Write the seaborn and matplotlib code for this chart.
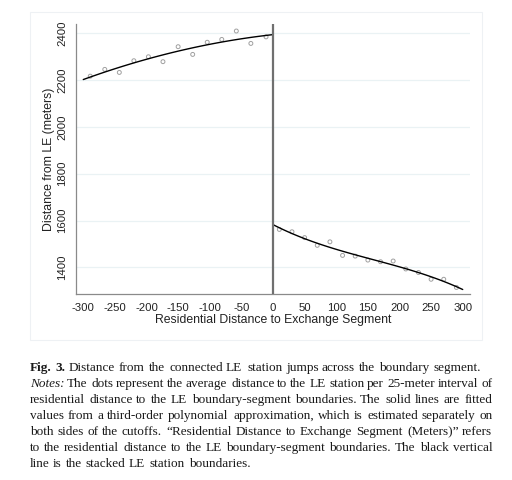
import numpy as np
import pandas as pd
import matplotlib
matplotlib.use("Agg")
import matplotlib.pyplot as plt
import seaborn as sns

# bin means (distance to segment, distance to LE station)
left_x = [-289, -266, -243, -220, -197, -174, -150, -127, -104, -81, -58, -35, -11]
left_y = [2217, 2246, 2233, 2283, 2300, 2279, 2343, 2310, 2362, 2374, 2410, 2357, 2385]
right_x = [10, 30, 50, 70, 90, 110, 130, 150, 170, 190, 210, 230, 250, 270, 290]
right_y = [1562, 1552, 1527, 1494, 1509, 1451, 1448, 1431, 1424, 1427, 1393, 1378, 1349, 1349, 1314]

x_labels = [-300, -250, -200, -150, -100, -50, 0, 50, 100, 150, 200, 250, 300]
y_labels = [1400, 1600, 1800, 2000, 2200, 2400]

caption = [
    ("left", [("Fig. 3.", "bold"), ("Distance from the connected LE station jumps across the boundary segment.", "normal")]),
    ("just", [("Notes:", "italic"), ("The dots represent the average distance to the LE station per 25-meter interval of", "normal")]),
    ("just", [("residential distance to the LE boundary-segment boundaries. The solid lines are fitted", "normal")]),
    ("just", [("values from a third-order polynomial approximation, which is estimated separately on", "normal")]),
    ("just", [("both sides of the cutoffs. \u201cResidential Distance to Exchange Segment (Meters)\u201d refers", "normal")]),
    ("just", [("to the residential distance to the LE boundary-segment boundaries. The black vertical", "normal")]),
    ("left", [("line is the stacked LE station boundaries.", "normal")]),
]

sns.set_style("white")
plt.rcParams["font.family"] = ["Liberation Sans", "DejaVu Sans"]
plt.rcParams["axes.unicode_minus"] = False

left = pd.DataFrame({"x": left_x, "y": left_y})
right = pd.DataFrame({"x": right_x, "y": right_y})

# polynomial fits, separately on each side (the bin means make the cubic wobble
# on the left, so a quadratic follows the published curve better there)
xl = np.linspace(-300, 0, 100)
xr = np.linspace(0, 300, 100)
fit_l = pd.DataFrame({"x": xl, "y": np.polyval(np.polyfit(left.x, left.y, 2), xl)})
fit_r = pd.DataFrame({"x": xr, "y": np.polyval(np.polyfit(right.x, right.y, 3), xr)})

W, H = 512, 480
fig = plt.figure(figsize=(W / 100, H / 100), dpi=100)
ax = fig.add_axes([76 / W, 1 - 294 / H, 394 / W, 270 / H])

# faint frame around the graph
fig.add_artist(plt.Rectangle((30 / W, 1 - 340 / H), 452 / W, 328 / H, transform=fig.transFigure,
                             fill=False, edgecolor="#eef1f4", lw=0.8))

ax.set_xlim(-311.5, 311.5)
ax.set_ylim(1286, 2440)
for yv in y_labels:
    ax.axhline(yv, color="#eaf2f4", lw=0.9, zorder=0)

sns.scatterplot(data=left, x="x", y="y", ax=ax, marker="o", s=8, facecolors="none",
                edgecolor="#a0a0a0", linewidth=0.7, zorder=3)
sns.scatterplot(data=right, x="x", y="y", ax=ax, marker="o", s=8, facecolors="none",
                edgecolor="#a0a0a0", linewidth=0.7, zorder=3)
sns.lineplot(data=fit_l, x="x", y="y", ax=ax, color="black", lw=1.0, zorder=4)
sns.lineplot(data=fit_r, x="x", y="y", ax=ax, color="black", lw=1.0, zorder=4)
ax.axvline(0, color="#707070", lw=1.6, zorder=5)

for s in ["top", "right"]:
    ax.spines[s].set_visible(False)
for s in ["left", "bottom"]:
    ax.spines[s].set_color("#8a8a8a")
    ax.spines[s].set_linewidth(0.9)

ax.set_xticks(x_labels)
ax.set_xticks(np.arange(-275, 300, 50), minor=True)
ax.set_yticks(y_labels)
ax.tick_params(axis="both", which="both", direction="out", length=3.5, width=0.8,
               color="#8a8a8a", labelsize=8.2, labelcolor="#222222", pad=3)
ax.tick_params(axis="y", labelrotation=90)
for t in ax.get_yticklabels():
    t.set_va("center")
ax.set_xlabel("Residential Distance to Exchange Segment", fontsize=8.8, color="#222222", labelpad=1)
ax.set_ylabel("Distance from LE (meters)", fontsize=8.8, color="#222222", labelpad=1.5)

# caption with justified lines, one Text per word
fig.canvas.draw()
rend = fig.canvas.get_renderer()
cap_font = "Liberation Serif"
cap_fs = 9.5
x0, x1 = 29.5, 492.5
baselines = [371, 387, 403, 419, 435, 451, 467]


def make_words(parts):
    out = []
    for txt, style in parts:
        for w in txt.split(" "):
            kw = {"fontweight": "bold"} if style == "bold" else {}
            if style == "italic":
                kw["fontstyle"] = "italic"
            t = fig.text(0, 0, w, fontsize=cap_fs, family=cap_font, color="#1a1a1a",
                         va="baseline", **kw)
            out.append((t, t.get_window_extent(rend).width))
    return out


sp = fig.text(0, 0, "a a", fontsize=cap_fs, family=cap_font).get_window_extent(rend).width
aa = fig.text(0, 0, "aa", fontsize=cap_fs, family=cap_font).get_window_extent(rend).width
space_w = sp - aa
for t in fig.texts[-2:]:
    t.remove()

for (mode, parts), by in zip(caption, baselines):
    words = make_words(parts)
    total = sum(w for _, w in words)
    gap = (x1 - x0 - total) / (len(words) - 1) if mode == "just" else space_w * 1.15
    xpos = x0
    for t, w in words:
        t.set_position((round(xpos) / W, 1 - by / H))
        xpos += w + gap

fig.savefig("out.png", dpi=100)
